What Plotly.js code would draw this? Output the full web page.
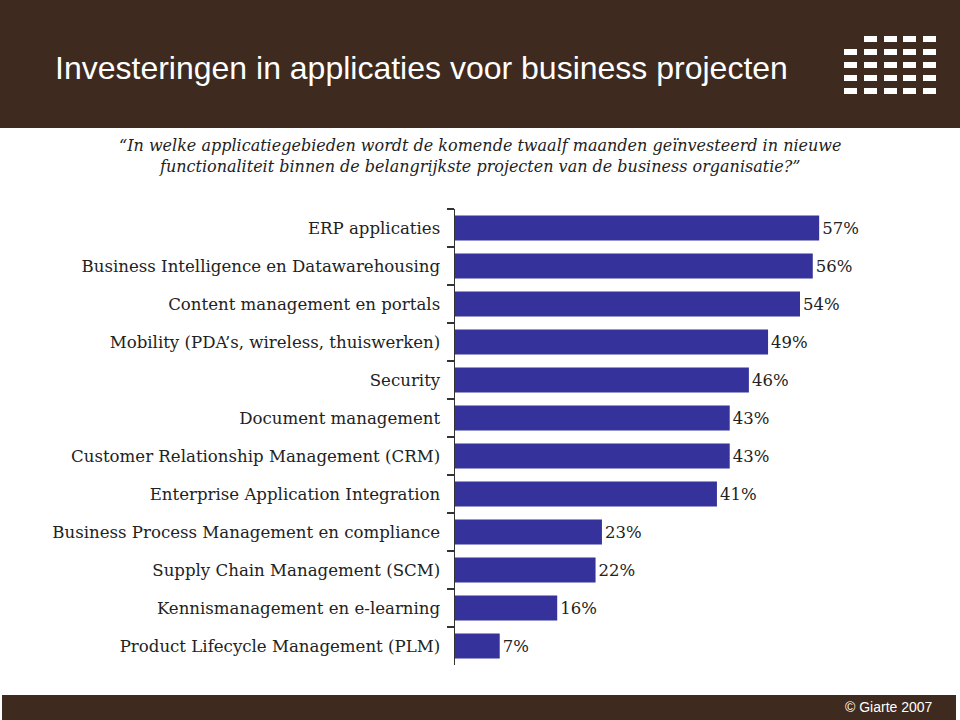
<!DOCTYPE html>
<html>
<head>
<meta charset="utf-8">
<script src="https://cdn.plot.ly/plotly-3.0.1.min.js"></script>
<style>html,body{margin:0;padding:0;background:#fff;}#chart{width:960px;height:720px;}</style>
</head>
<body>
<div id="chart"></div>
<script>
const categories = [
  "ERP applicaties",
  "Business Intelligence en Datawarehousing",
  "Content management en portals",
  "Mobility (PDA\u2019s, wireless, thuiswerken)",
  "Security",
  "Document management",
  "Customer Relationship Management (CRM)",
  "Enterprise Application Integration",
  "Business Process Management en compliance",
  "Supply Chain Management (SCM)",
  "Kennismanagement en e-learning",
  "Product Lifecycle Management (PLM)"
];
const values = [57, 56, 54, 49, 46, 43, 43, 41, 23, 22, 16, 7];
const valueLabels = values.map(v => v + "%");

const W = 960, H = 720;
const M = {l: 455, r: 45, t: 209, b: 55};
const pw = W - M.l - M.r, ph = H - M.t - M.b;
const px = x => (x - M.l) / pw;
const py = y => (H - M.b - y) / ph;

const brown = '#3e2a1e';
const shapes = [
  {type:'rect', xref:'paper', yref:'paper', x0:px(0), x1:px(960), y0:py(128), y1:py(0), fillcolor:brown, line:{width:0}, layer:'below'},
  {type:'rect', xref:'paper', yref:'paper', x0:px(2), x1:px(956), y0:py(720), y1:py(695), fillcolor:brown, line:{width:0}, layer:'below'}
];
const colX = [844, 864, 884, 903, 923];
const rowY = [36, 49, 62, 75, 88];
rowY.forEach((ry, ri) => {
  colX.forEach((cx, ci) => {
    if (ri === 0 && ci === 0) return;
    shapes.push({type:'rect', xref:'paper', yref:'paper', x0:px(cx), x1:px(cx+13), y0:py(ry+6), y1:py(ry), fillcolor:'#ffffff', line:{width:0}});
  });
});

const trace = {
  type: 'bar',
  orientation: 'h',
  x: values,
  y: categories,
  text: valueLabels,
  textposition: 'outside',
  cliponaxis: false,
  textfont: {family: 'DejaVu Serif, serif', size: 16.5, color: '#222'},
  marker: {color: '#35339b'},
  hoverinfo: 'none'
};

const layout = {
  width: W, height: H,
  margin: M,
  paper_bgcolor: '#ffffff',
  plot_bgcolor: '#ffffff',
  showlegend: false,
  bargap: 0.34,
  title: {
    text: 'Investeringen in applicaties voor business projecten',
    x: 55 / W, xanchor: 'left', xref: 'container',
    y: 1 - 68 / H, yanchor: 'middle', yref: 'container',
    font: {family: 'Liberation Sans, Arial, sans-serif', size: 32, color: '#ffffff'}
  },
  xaxis: {
    range: [0, 72],
    visible: false,
    showgrid: false,
    zeroline: false
  },
  yaxis: {
    type: 'category',
    autorange: 'reversed',
    showline: true,
    linecolor: '#333',
    linewidth: 1.5,
    ticks: 'outside',
    tickson: 'boundaries',
    ticklen: 7,
    tickcolor: '#333',
    tickwidth: 1.5,
    ticklabelstandoff: 10,
    showgrid: false,
    tickfont: {family: 'DejaVu Serif, serif', size: 16.6, color: '#222'}
  },
  shapes: shapes,
  annotations: [
    {
      xref: 'paper', yref: 'paper', x: px(480), y: py(156), xanchor: 'center', yanchor: 'middle',
      text: '\u201CIn welke applicatiegebieden wordt de komende twaalf maanden ge\u00EFnvesteerd in nieuwe<br>functionaliteit binnen de belangrijkste projecten van de business organisatie?\u201D',
      showarrow: false, align: 'center',
      font: {family: 'DejaVu Serif, serif', size: 16, color: '#222', style: 'italic'}
    },
    {
      xref: 'paper', yref: 'paper', x: px(935), y: py(707), xanchor: 'right', yanchor: 'middle',
      text: '\u00A9 Giarte 2007', showarrow: false,
      font: {family: 'Liberation Sans, Arial, sans-serif', size: 14, color: '#ffffff'}
    }
  ]
};

Plotly.newPlot('chart', [trace], layout, {displayModeBar: false, staticPlot: true});
</script>
</body>
</html>
